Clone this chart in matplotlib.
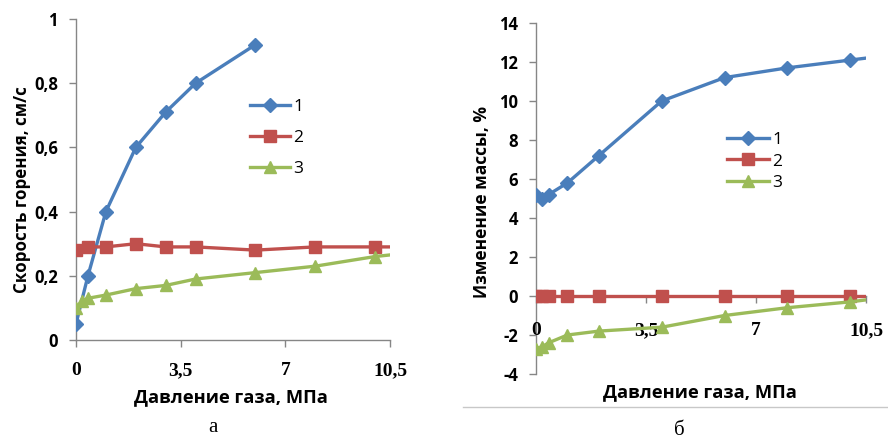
import matplotlib.pyplot as plt
from matplotlib.ticker import FuncFormatter

# left chart: burning rate vs gas pressure
p_rate_1 = [0, 0.4, 1, 2, 3, 4, 6]
rate_1 = [0.05, 0.20, 0.40, 0.60, 0.71, 0.80, 0.92]
p_rate_2 = [0, 0.4, 1, 2, 3, 4, 6, 8, 10, 12]
rate_2 = [0.28, 0.29, 0.29, 0.30, 0.29, 0.29, 0.28, 0.29, 0.29, 0.29]
p_rate_3 = [0, 0.2, 0.4, 1, 2, 3, 4, 6, 8, 10, 12]
rate_3 = [0.10, 0.12, 0.13, 0.14, 0.16, 0.17, 0.19, 0.21, 0.23, 0.26, 0.28]

# right chart: mass change vs gas pressure
p_mass = [0, 0.2, 0.4, 1, 2, 4, 6, 8, 10, 12]
mass_1 = [5.2, 5.0, 5.2, 5.8, 7.2, 10.0, 11.2, 11.7, 12.1, 12.5]
mass_2 = [0, 0, 0, 0, 0, 0, 0, 0, 0, 0]
mass_3 = [-2.7, -2.6, -2.4, -2.0, -1.8, -1.6, -1.0, -0.6, -0.3, 0.1]

x_ticks = [0, 3.5, 7, 10.5]
labels = ['1', '2', '3']

blue = '#4a7ebb'
red = '#c0504d'
green = '#9bbb59'
axis_grey = '#868686'

W, H = 888, 440
fig = plt.figure(figsize=(W / 100, H / 100), dpi=100)

sans = 'Open Sans'
comma = FuncFormatter(lambda v, pos: ('%g' % v).replace('.', ','))


def px_rect(x0, y0, x1, y1):
    return [x0 / W, 1 - y1 / H, (x1 - x0) / W, (y1 - y0) / H]


def style_axes(ax):
    for s in ['top', 'right']:
        ax.spines[s].set_visible(False)
    for s in ['left', 'bottom']:
        ax.spines[s].set_color(axis_grey)
        ax.spines[s].set_linewidth(1.0)
        ax.spines[s].set_zorder(1.5)
    ax.tick_params(axis='both', direction='out', length=5, color=axis_grey, width=1)
    ax.set_xticks(x_ticks)
    ax.xaxis.set_major_formatter(comma)
    ax.yaxis.set_major_formatter(comma)
    for t in ax.get_yticklabels():
        t.set_fontfamily(sans)
        t.set_fontweight('bold')
        t.set_fontsize(12)
    for t in ax.get_xticklabels():
        t.set_fontfamily('Liberation Serif')
        t.set_fontweight('bold')
        t.set_fontsize(14)


line_kw = dict(linewidth=2.4, clip_on=True, zorder=3)

# ---- left panel ----
ax1 = fig.add_axes(px_rect(76, 19, 390, 340))
ax1.plot(p_rate_1, rate_1, color=blue, marker='D', markersize=7, label=labels[0], **line_kw)
ax1.plot(p_rate_2, rate_2, color=red, marker='s', markersize=9, label=labels[1], **line_kw)
ax1.plot(p_rate_3, rate_3, color=green, marker='^', markersize=9, label=labels[2], **line_kw)
ax1.set_xlim(0, 10.5)
ax1.set_ylim(0, 1)
ax1.set_yticks([0, 0.2, 0.4, 0.6, 0.8, 1])
style_axes(ax1)
ax1.tick_params(axis='x', pad=11)
ax1.tick_params(axis='y', pad=8)
ax1.legend(loc='upper left', bbox_to_anchor=(250 / W, 1 - 99 / H),
           bbox_transform=fig.transFigure, frameon=False,
           handlelength=2.3, handletextpad=0.2, labelspacing=0.85,
           prop={'family': sans, 'size': 12.5}, borderaxespad=0, borderpad=0)

fig.text(22 / W, 1 - 190 / H, 'Скорость горения, см/с', rotation=90,
         ha='center', va='center', fontfamily=sans, fontweight='bold', fontsize=12.2)
fig.text(231 / W, 1 - 397 / H, 'Давление газа, МПа', ha='center', va='center',
         fontfamily=sans, fontweight='bold', fontsize=13.2)
fig.text(213 / W, 1 - 427 / H, 'а', ha='center', va='center',
         fontfamily='Liberation Serif', fontsize=15)

# ---- right panel ----
ax2 = fig.add_axes(px_rect(536, 23, 866, 374))
ax2.plot(p_mass, mass_1, color=blue, marker='D', markersize=7, label=labels[0], **line_kw)
ax2.plot(p_mass, mass_2, color=red, marker='s', markersize=9, label=labels[1], **line_kw)
ax2.plot(p_mass, mass_3, color=green, marker='^', markersize=9, label=labels[2], **line_kw)
ax2.set_xlim(0, 10.5)
ax2.set_ylim(-4, 14)
ax2.set_yticks(range(-4, 15, 2))
ax2.spines['bottom'].set_position(('data', 0))
style_axes(ax2)
ax2.tick_params(axis='x', pad=14)
ax2.tick_params(axis='y', pad=8)
ax2.legend(loc='upper left', bbox_to_anchor=(727 / W, 1 - 132 / H),
           bbox_transform=fig.transFigure, frameon=False,
           handlelength=2.4, handletextpad=0.2, labelspacing=0.3,
           prop={'family': sans, 'size': 12.5}, borderaxespad=0, borderpad=0)

fig.text(482 / W, 1 - 202 / H, 'Изменение массы, %', rotation=90,
         ha='center', va='center', fontfamily=sans, fontweight='bold', fontsize=12.5)
fig.text(700 / W, 1 - 392 / H, 'Давление газа, МПа', ha='center', va='center',
         fontfamily=sans, fontweight='bold', fontsize=13.2)
fig.text(679 / W, 1 - 430 / H, 'б', ha='center', va='center',
         fontfamily='Liberation Serif', fontsize=15)

# thin separator under the right panel
fig.add_artist(plt.Line2D([463 / W, 1], [1 - 407 / H, 1 - 407 / H],
                          color='#c8c8c8', linewidth=1))

fig.savefig('out.png', dpi=100)
